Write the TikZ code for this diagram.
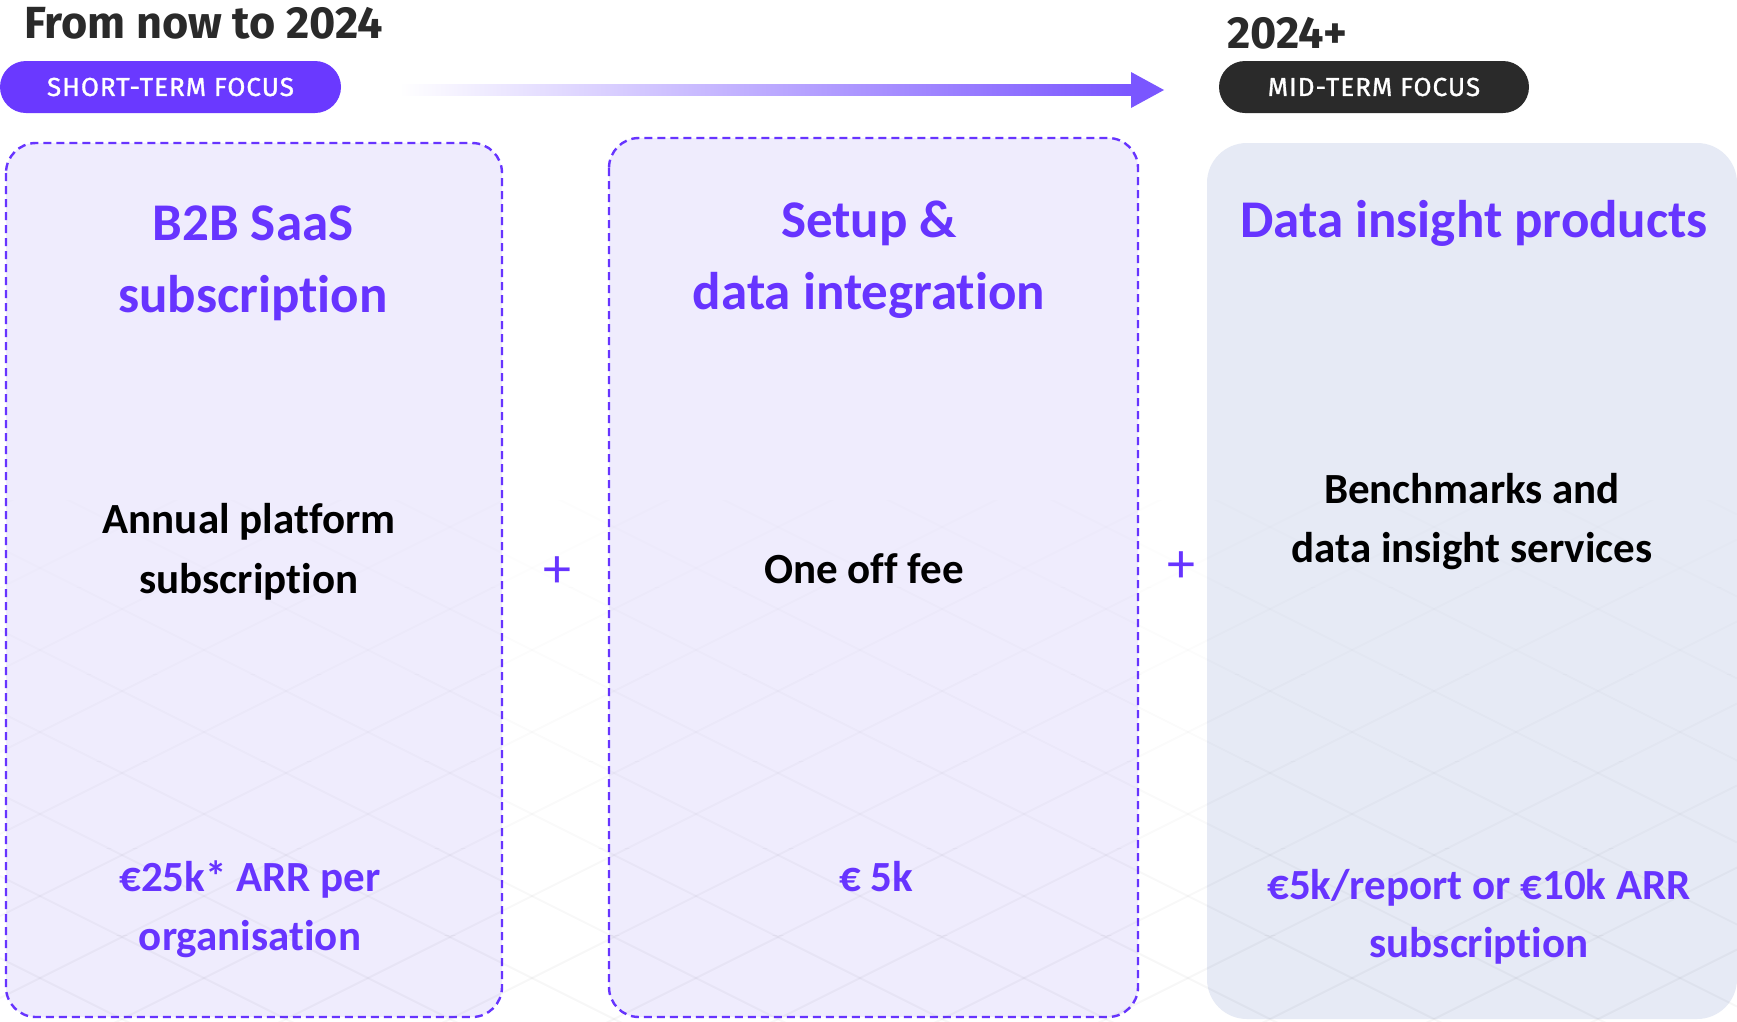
\documentclass[tikz,border=0pt]{standalone}
\usepackage{fontspec}
\setmainfont{Carlito}[Ligatures={NoCommon,NoContextual},Contextuals=NoAlternate]
\newfontfamily\headfont{Fira Sans}
\newfontfamily\pillfont{Fira Sans}[LetterSpace=4,FakeBold=1.2]
\usepackage{tikz}

\definecolor{brandpurple}{RGB}{103,52,255}
\definecolor{pillpurple}{RGB}{106,57,255}
\definecolor{arrowpurple}{RGB}{122,86,255}
\definecolor{cardlilac}{RGB}{239,236,253}
\definecolor{cardgrey}{RGB}{230,234,245}
\definecolor{inkdark}{RGB}{42,42,42}

\tikzset{
  card/.style={draw=brandpurple, line width=2.4pt, dash pattern=on 8pt off 5pt, fill=cardlilac, rounded corners=30pt},
  pill/.style={rounded corners=26pt, minimum height=52pt, inner sep=0pt, text=white, font=\pillfont\fontsize{26}{26}\selectfont},
  headtext/.style={text=inkdark, font=\headfont\bfseries\fontsize{45}{45}\selectfont, inner sep=0pt, anchor=base west},
  titletext/.style={text=brandpurple, font=\bfseries\fontsize{53}{53}\selectfont, inner sep=0pt, anchor=base},
  bodytext/.style={text=black, font=\bfseries\fontsize{43}{43}\selectfont, inner sep=0pt, anchor=base},
  pricetext/.style={bodytext, text=brandpurple},
  plussign/.style={text=brandpurple, font=\fontsize{56}{56}\selectfont, inner sep=0pt},
  lattice/.style={line width=2pt, black},
}

\begin{document}
\begin{tikzpicture}[x=1pt,y=1pt,yscale=-1,xscale=1]
\useasboundingbox (0,0) rectangle (1737,1021);
\fill[white] (0,0) rectangle (1737,1021);

%Cards
\draw[card] (6,143) rectangle (502,1017);
\draw[card] (609,138) rectangle (1138,1017);
\fill[cardgrey, rounded corners=40pt] (1207,143) rectangle (1737,1019);

%Background lattice, fading out towards the top
\foreach \b in {0,...,5}{
  \begin{scope}
    \clip (0,{500+87*\b}) rectangle (1737,{587+87*\b});
    \foreach \k in {-12,...,12}{
      \draw[lattice, opacity={0.006+0.005*\b}] (0,{384+82*\k}) -- (1737,{384+82*\k+868.5});
      \draw[lattice, opacity={0.006+0.005*\b}] (0,{916+82*\k}) -- (1737,{916+82*\k-868.5});
    }
  \end{scope}
}

%Arrow
\coordinate (arrowtail) at (399,90);
\coordinate (arrowtip) at (1164,90);
\shade[left color=white, right color=arrowpurple] (arrowtail) ++(0,-5.5) rectangle (1132,95.5);
\fill[arrowpurple] (arrowtip) -- ++(-33,-18) -- ++(0,36) -- cycle;

% Headings and pills
\node[headtext] (nowhead) at (24,38) {From now to 2024};
\node[headtext] (laterhead) at (1227,48) {2024+};
\node[pill, fill=pillpurple, minimum width=341pt] (shortpill) at (170.5,87) {SHORT-TERM FOCUS};
\node[pill, fill=inkdark, minimum width=310pt] (midpill) at (1374,87) {MID-TERM FOCUS};

% Card 1
\node[titletext] (saasA) at (253,240) {B2B SaaS};
\node[titletext] (saasB) at (253,312) {subscription};
\node[bodytext] (annualA) at (249,533) {Annual platform};
\node[bodytext] (annualB) at (249,593) {subscription};
\node[pricetext] (arrA) at (250,891) {€25k* ARR per};
\node[pricetext] (arrB) at (250,950) {organisation};

% Card 2
\node[titletext] (setupA) at (869,237) {Setup \&};
\node[titletext] (setupB) at (869,309) {data integration};
\node[bodytext] (feeA) at (864,583) {One off fee};
\node[pricetext] (feeB) at (876,891) {€ 5k};

% Card 3
\node[titletext] (insightA) at (1474,237) {Data insight products};
\node[bodytext] (benchA) at (1472,503) {Benchmarks and};
\node[bodytext] (benchB) at (1472,562) {data insight services};
\node[pricetext] (reportA) at (1479,899) {€5k/report or €10k ARR};
\node[pricetext] (reportB) at (1479,957) {subscription};

% Plus signs
\node[plussign] (plusA) at (557,572) {+};
\node[plussign] (plusB) at (1181,567) {+};

\end{tikzpicture}
\end{document}
